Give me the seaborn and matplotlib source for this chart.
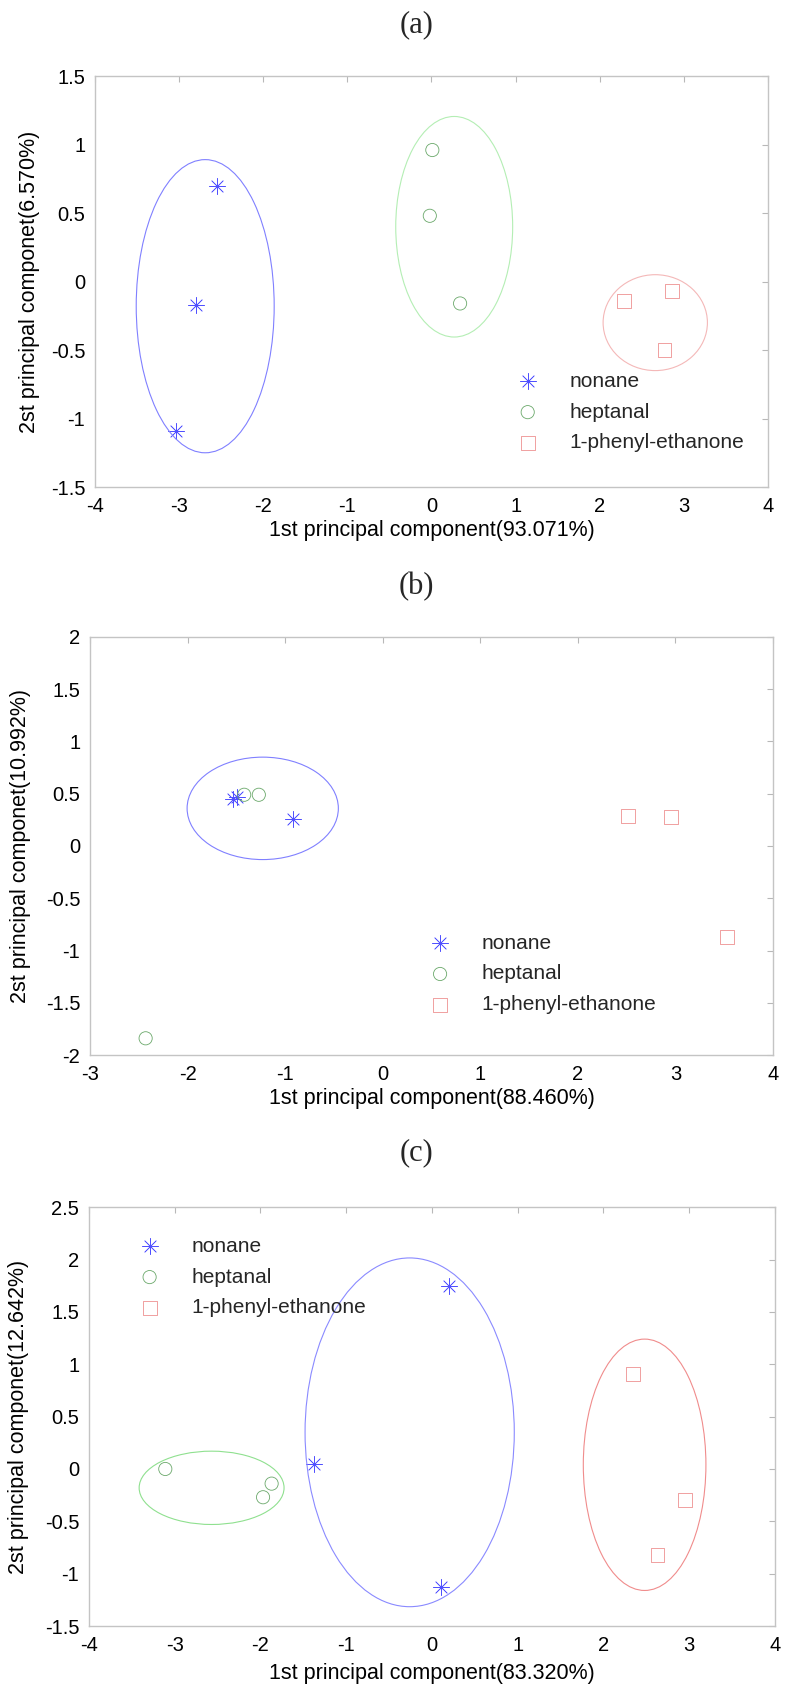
import numpy as np
import pandas as pd
import matplotlib
matplotlib.use("Agg")
import matplotlib.pyplot as plt
from matplotlib.patches import Ellipse
from matplotlib.ticker import FuncFormatter, MultipleLocator
import seaborn as sns

compounds = ["nonane", "heptanal", "1-phenyl-ethanone"]
panel_names = ["(a)", "(b)", "(c)"]

# PCA scores: x = PC1, y = PC2
a_x = {"nonane": [-2.55, -2.80, -3.04],
       "heptanal": [0.01, -0.02, 0.34],
       "1-phenyl-ethanone": [2.29, 2.86, 2.77]}
a_y = {"nonane": [0.70, -0.17, -1.09],
       "heptanal": [0.96, 0.48, -0.16],
       "1-phenyl-ethanone": [-0.14, -0.07, -0.50]}

b_x = {"nonane": [-1.53, -1.49, -0.92],
       "heptanal": [-1.42, -1.27, -2.43],
       "1-phenyl-ethanone": [2.51, 2.95, 3.53]}
b_y = {"nonane": [0.45, 0.47, 0.26],
       "heptanal": [0.49, 0.49, -1.84],
       "1-phenyl-ethanone": [0.29, 0.28, -0.87]}

c_x = {"nonane": [0.20, -1.38, 0.10],
       "heptanal": [-3.11, -1.87, -1.97],
       "1-phenyl-ethanone": [2.34, 2.95, 2.63]}
c_y = {"nonane": [1.75, 0.05, -1.13],
       "heptanal": [0.00, -0.14, -0.27],
       "1-phenyl-ethanone": [0.91, -0.30, -0.82]}

# cluster ellipses: compound, centre x, centre y, width, height
a_ell = [("nonane", -2.69, -0.18, 1.64, 2.14),
         ("heptanal", 0.27, 0.40, 1.39, 1.61),
         ("1-phenyl-ethanone", 2.66, -0.30, 1.24, 0.70)]
b_ell = [("nonane", -1.23, 0.36, 1.55, 0.98)]
c_ell = [("nonane", -0.26, 0.35, 2.44, 3.33),
         ("heptanal", -2.57, -0.18, 1.69, 0.70),
         ("1-phenyl-ethanone", 2.48, 0.04, 1.43, 2.40)]

xlabels = ["1st principal component(93.071%)",
           "1st principal component(88.460%)",
           "1st principal component(83.320%)"]
ylabels = ["2st principal componet(6.570%)",
           "2st principal componet(10.992%)",
           "2st principal componet(12.642%)"]
xlims = [(-4, 4), (-3, 4), (-4, 4)]
ylims = [(-1.5, 1.5), (-2, 2), (-1.5, 2.5)]

sns.set_theme(style="white")
plt.rcParams["font.family"] = ["Liberation Sans", "DejaVu Sans"]
plt.rcParams["axes.unicode_minus"] = False

marker_style = {"nonane": dict(marker=(8, 2, 0), s=130, color="#5050ff", linewidth=0.5),
                "heptanal": dict(marker="o", s=90, facecolor="none", edgecolor="#6aa86a", linewidth=0.6),
                "1-phenyl-ethanone": dict(marker="s", s=100, facecolor="none", edgecolor="#ee9090", linewidth=0.6)}
ell_colors = [{"nonane": "#8080ff", "heptanal": "#b4eeb4", "1-phenyl-ethanone": "#f4b8b8"},
              {"nonane": "#8080ff"},
              {"nonane": "#8a8aff", "heptanal": "#8fe08f", "1-phenyl-ethanone": "#f08c8c"}]

fig = plt.figure(figsize=(7.91, 16.94), dpi=100)
rects = [[0.1201, 0.7125, 0.8508, 0.2426],
         [0.1138, 0.3772, 0.8635, 0.2468],
         [0.1125, 0.0401, 0.8672, 0.2473]]
title_y = [0.9852, 0.6535, 0.3194]
leg_pos = [(0.612, 0.280), (0.482, 0.290), (0.058, 0.929)]
ylab_x = [-0.081, -0.087, -0.087]

for i, (px, py, ells) in enumerate([(a_x, a_y, a_ell), (b_x, b_y, b_ell), (c_x, c_y, c_ell)]):
    ax = fig.add_axes(rects[i])
    for name in compounds:
        df = pd.DataFrame({"pc1": px[name], "pc2": py[name]})
        sns.scatterplot(data=df, x="pc1", y="pc2", ax=ax, label=name,
                        legend=False, **marker_style[name])
    for name, cx, cy, w, h in ells:
        ax.add_patch(Ellipse((cx, cy), w, h, fill=False,
                             edgecolor=ell_colors[i][name], linewidth=0.8))

    ax.set_xlim(*xlims[i])
    ax.set_ylim(*ylims[i])
    ax.xaxis.set_major_locator(MultipleLocator(1))
    ax.yaxis.set_major_locator(MultipleLocator(0.5))
    fmt = FuncFormatter(lambda v, p: f"{v:g}")
    ax.xaxis.set_major_formatter(fmt)
    ax.yaxis.set_major_formatter(fmt)
    ax.tick_params(direction="in", length=4, width=0.8, color="#b8b8b8",
                   top=True, right=True, labelsize=14.5, pad=7, labelcolor="black")
    for sp in ax.spines.values():
        sp.set_color("#c4c4c4")
        sp.set_linewidth(1.0)

    ax.set_xlabel(xlabels[i], fontsize=15.5, color="black", va="top")
    ax.set_ylabel(ylabels[i], fontsize=15.5, color="black")
    ax.xaxis.set_label_coords(0.5, -0.080 if i < 2 else -0.088)
    ax.yaxis.set_label_coords(ylab_x[i], 0.5)

    ax.legend(loc="upper left", bbox_to_anchor=leg_pos[i], frameon=False,
              fontsize=15, handletextpad=1.0, labelspacing=0.56,
              borderpad=0, borderaxespad=0, scatterpoints=1)

    fig.text(0.526, title_y[i], panel_names[i], ha="center", va="center",
             fontsize=22, family=["Liberation Serif", "DejaVu Serif"])

fig.savefig("out.png", dpi=100, facecolor="white")
